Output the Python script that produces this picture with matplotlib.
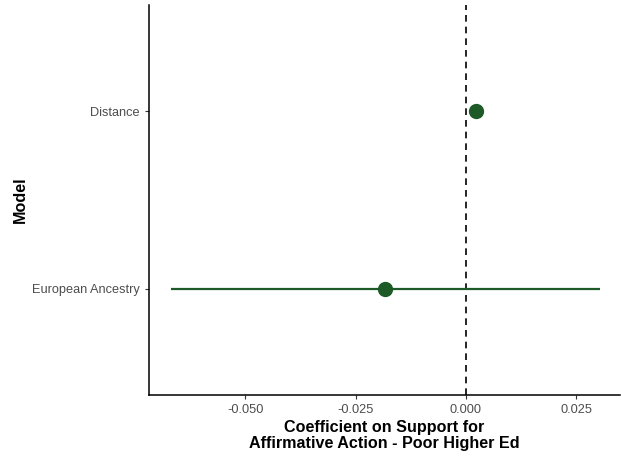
import matplotlib

matplotlib.use("Agg")
import matplotlib.pyplot as plt

plt.rcParams["font.family"] = ["Liberation Sans", "DejaVu Sans"]

models = ["European Ancestry", "Distance"]
estimates = [-0.0184, 0.0023]
ci_low = [-0.0669, 0.0023]
ci_high = [0.0304, 0.0023]
xticks = [-0.050, -0.025, 0.000, 0.025]

green = "#1d5a28"

fig = plt.figure(figsize=(6.21, 4.58), dpi=100)
ax = fig.add_axes([0.240, 0.137, 0.758, 0.852])

ypos = list(range(1, len(models) + 1))
ax.hlines(ypos, ci_low, ci_high, color=green, lw=1.6, zorder=2)
ax.plot(estimates, ypos, "o", color=green, ms=10, zorder=3)
ax.axvline(0, color="black", ls=(0, (4, 3)), lw=1.2, zorder=1)

ax.set_xlim(-0.0718, 0.0349)
ax.set_ylim(0.4, 2.6)
ax.set_yticks(ypos)
ax.set_yticklabels(models)
ax.set_xticks(xticks)
ax.set_xticklabels([f"{v:.3f}" for v in xticks])

for s in ["top", "right"]:
    ax.spines[s].set_visible(False)
for s in ["left", "bottom"]:
    ax.spines[s].set_linewidth(1.1)
ax.tick_params(colors="#333333", labelcolor="#4d4d4d", labelsize=9.2, length=3)

ax.set_xlabel("Coefficient on Support for\nAffirmative Action - Poor Higher Ed",
              fontsize=11.6, fontweight="bold", labelpad=3, linespacing=1.05)
ax.set_ylabel("Model", fontsize=11.6, fontweight="bold", labelpad=3)

fig.savefig("out.png", dpi=100)
